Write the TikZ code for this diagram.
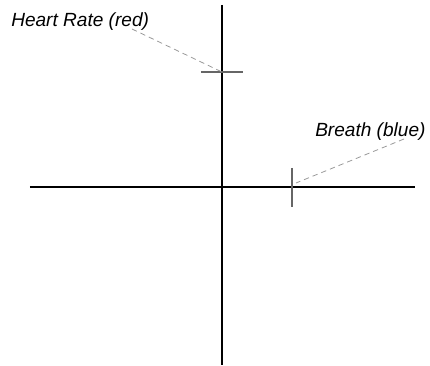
\documentclass[tikz,border=0pt]{standalone}
\usepackage{fontspec}
\setmainfont{Liberation Sans}
\begin{document}
\begin{tikzpicture}[x=0.75pt,y=-0.75pt,
  axis/.style={draw=black,line width=0.8pt},
  tick/.style={draw=black!60,line width=1.2pt},
  lead/.style={draw=black!40,line width=0.6pt,dash pattern=on 4pt off 3pt},
  lbl/.style={font=\itshape\fontsize{14.3}{16}\selectfont,inner sep=0pt,anchor=base west}]
\useasboundingbox (0,0) rectangle (430,366);
\coordinate (vt) at (222,5);
\coordinate (vb) at (222,365);
\coordinate (hl) at (30,187);
\coordinate (hr) at (415,187);
\draw[axis] (vt) -- (vb);
\draw[axis] (hl) -- (hr);
\coordinate (ht1) at (201,72);
\coordinate (ht2) at (243,72);
\coordinate (hc) at (222,72);
\draw[tick] (ht1) -- (ht2);
\coordinate (bt1) at (292,168);
\coordinate (bt2) at (292,207);
\coordinate (bc) at (296,183);
\draw[tick] (bt1) -- (bt2);
\node[lbl] (hrl) at (11,27) {Heart Rate (red)};
\node[lbl] (brl) at (315,137) {Breath (blue)};
\coordinate (he) at (132,29);
\coordinate (be) at (404,139);
\draw[lead] (he) -- (hc);
\draw[lead] (be) -- (bc);
\end{tikzpicture}
\end{document}
